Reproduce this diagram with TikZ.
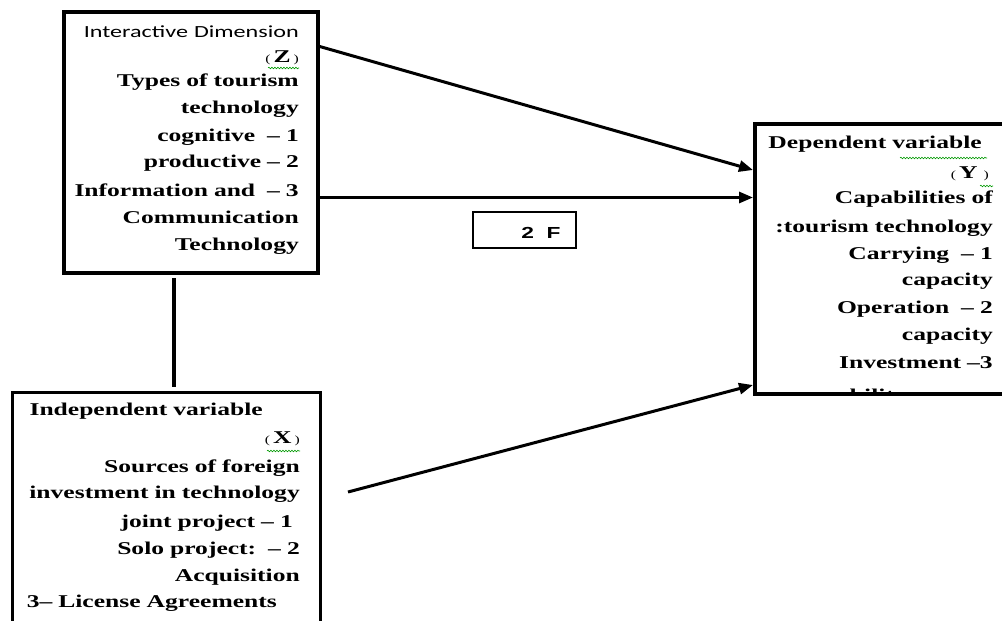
\documentclass[tikz,border=0pt]{standalone}
\usepackage{fontspec}
\setmainfont{Liberation Serif}[FakeStretch=1.42]
\newfontfamily\calibrifont{Carlito}[FakeStretch=1.42]
\newfontfamily\arialfont{Liberation Sans}[FakeStretch=1.42]
\usetikzlibrary{arrows.meta,decorations.pathmorphing}

\newcommand{\lpar}{{\mdseries\fontsize{11}{11}\selectfont(}}
\newcommand{\rpar}{{\mdseries\fontsize{11}{11}\selectfont)}}
\newcommand{\pad}[1]{\hbox to #1{}}

\begin{document}
\begin{tikzpicture}[x=1pt,y=-1pt,
	box/.style={draw, line width=4pt, inner sep=0pt, outer sep=0pt, anchor=north west},
	boxtext/.style={inner sep=0pt, anchor=base east, align=right, font=\fontsize{18}{27.5}\selectfont\bfseries},
	arr/.style={line width=3pt, -{Triangle[length=14pt,width=11pt]}},
	wavy/.style={draw=green!60!black, line width=0.6pt, decorate, decoration={snake, amplitude=0.8pt, segment length=3pt}}]

	\useasboundingbox (0,0) rectangle (1002,621);
	\clip (0,0) rectangle (1002,621);

	% boxes
	\node[box, minimum width=254pt, minimum height=261pt] (zbox) at (64,12) {};
	\node[box, minimum width=262pt, minimum height=270pt] (ybox) at (755,124) {};
	\node[box, line width=3pt, minimum width=308pt, minimum height=250pt] (xbox) at (12,392) {};
	\node[box, line width=1.5pt, minimum width=103pt, minimum height=36pt] (fbox) at (473,212) {};

	% texts
	\node[boxtext, text width=240pt] (ztext) at (299,37) {{\calibrifont\mdseries\fontsize{17}{17}\selectfont Interactive Dimension}\\[-2.5pt]
		\lpar\,Z\,\rpar\\[-2.5pt]
		Types of tourism\\[-0.5pt]
		technology\\
		cognitive\ \ -- 1\\[-1.5pt]
		productive -- 2\\[1.5pt]
		Information and\ \ -- 3\\
		Communication\\[-0.5pt]
		Technology};

	\begin{scope}
		\clip (750,100) rectangle (1002,391);
		\node[boxtext, text width=240pt] (ytext) at (993,148) {Dependent variable\pad{11pt}\\[2.5pt]
			\lpar\,Y\,\,\rpar\pad{4pt}\\[-2.5pt]
			Capabilities of\\[1.5pt]
			:tourism technology\\
			Carrying\ \ -- 1\\[-1.5pt]
			capacity\\
			Operation\ \ -- 2\\
			capacity\\
			Investment --3\\[6pt]
			capability\pad{86pt}};
	\end{scope}

	\node[boxtext, text width=290pt] (xtext) at (300,415) {Independent variable\pad{37pt}\\[0.5pt]
		\lpar\,X\,\rpar\\[1.5pt]
		Sources of foreign\\[-1.5pt]
		investment in technology\\[1.5pt]
		joint project -- 1\pad{7pt}\\
		Solo project:\ \ -- 2\\[-0.5pt]
		Acquisition\\[-1.5pt]
		3-- License Agreements\pad{23pt}};

	\node[font=\arialfont\bfseries\fontsize{16}{16}\selectfont, anchor=base] (ftext) at ([xshift=16.5pt,yshift=-8pt]fbox.center) {2\ \ F};

	% links
	\draw[line width=4pt] ([xshift=-17pt,yshift=-5pt]zbox.south) -- ([xshift=8pt,yshift=5pt]xbox.north);
	\draw[arr] ([yshift=-34pt]zbox.north east) -- ([xshift=-2pt,yshift=-46pt]ybox.north west);
	\draw[arr] ([yshift=-185.5pt]zbox.north east) -- ([xshift=-2pt,yshift=-73.5pt]ybox.north west);
	\draw[arr] ([xshift=28pt,yshift=-100pt]xbox.north east) -- ([xshift=-2pt,yshift=-261pt]ybox.north west);

	% spelling marks
	\draw[wavy] (268,68) -- (299,68);
	\draw[wavy] (900,158) -- (987,158);
	\draw[wavy] (980,186) -- (993,186);
	\draw[wavy] (267,451) -- (300,451);

\end{tikzpicture}
\end{document}
